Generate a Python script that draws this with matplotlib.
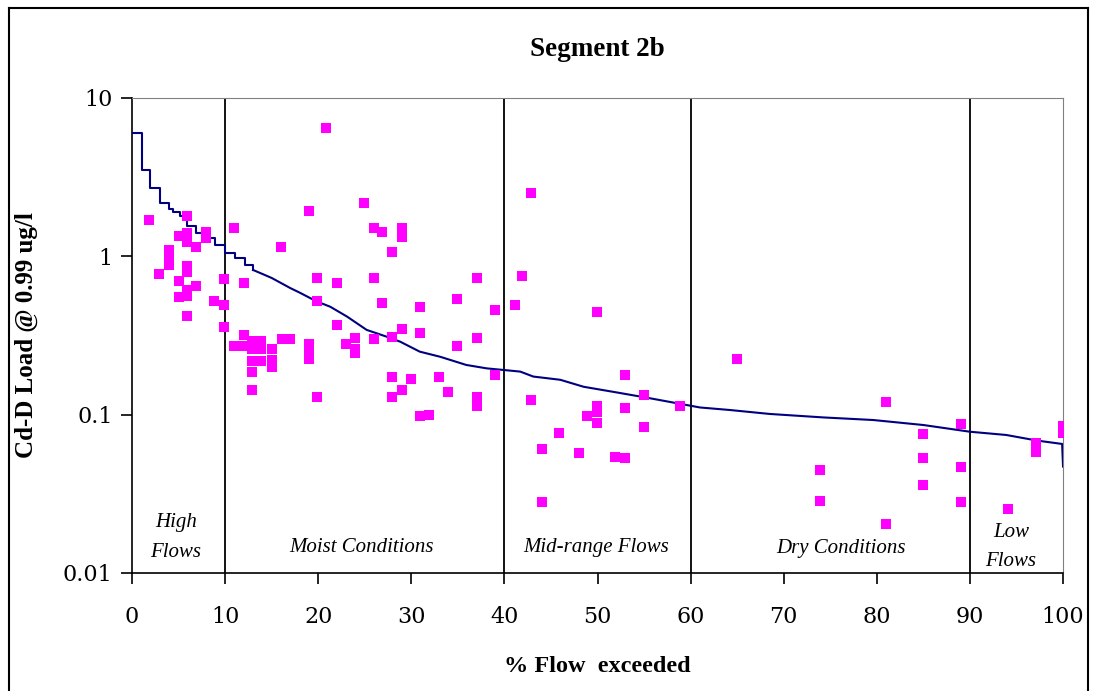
import matplotlib.pyplot as plt
from matplotlib.lines import Line2D

# flow duration curve (% flow exceeded, load)
curve_x = [0, 1.1, 1.9, 3.0, 4.0, 4.4, 5.2, 5.9, 6.9, 7.5, 8.9, 10.0, 11.1, 12.1, 13.0,
           15.0, 17.0, 18.0, 19.8, 21.3, 23.1, 25.2, 27.4, 28.8, 30.9, 33.1, 35.9, 38.1,
           40.1, 41.7, 43.1, 46.0, 48.5, 52.1, 55.6, 61.0, 64.2, 68.5, 74.3, 79.6, 85.0,
           90.0, 93.9, 97.2, 99.9, 100.0]
curve_y = [6.0, 3.5, 2.71, 2.16, 1.99, 1.90, 1.80, 1.56, 1.41, 1.30, 1.18, 1.05, 0.97, 0.88,
           0.82, 0.73, 0.63, 0.59, 0.52, 0.48, 0.416, 0.343, 0.31, 0.289, 0.25, 0.232, 0.206,
           0.196, 0.191, 0.187, 0.174, 0.166, 0.150, 0.138, 0.127, 0.111, 0.107, 0.101, 0.096,
           0.0925, 0.086, 0.078, 0.0744, 0.0686, 0.0653, 0.047]
n_steps = 15  # the high-flow end of the curve is visibly stepped

# observed loads
obs_x = [1.8, 2.9, 4.0, 4.0, 4.0, 5.0, 5.9, 5.9, 5.9, 6.9, 7.95, 7.95, 10.95, 5.0,
         5.9, 5.9, 6.9, 5.9, 5.9, 5.0, 8.8, 9.9, 9.9, 12.0, 19.0, 16.0, 20.8, 19.9, 19.9,
         5.9, 9.9, 10.95, 12.0, 12.0, 12.9, 12.9, 13.9, 13.9, 15.0, 16.1, 17.0, 12.9, 13.9,
         15.0, 15.0, 12.9, 12.9, 19.0, 19.0, 19.0, 19.9,
         24.95, 26.0, 26.9, 29.0, 29.0, 27.9, 22.0, 26.0, 37.0, 26.9, 30.9, 34.9, 38.96,
         41.1, 22.0, 23.9, 23.0, 23.9, 23.9, 26.0, 27.9, 29.0, 30.9, 34.9, 37.0,
         27.9, 30.0, 33.0, 29.0, 33.9, 37.0, 37.0, 27.9, 30.9, 31.9, 38.96,
         42.9, 41.9, 49.9, 52.9, 55.0, 58.9, 42.9, 49.9, 49.9, 48.9, 49.9, 52.9, 55.0,
         45.9, 44.0, 48.0, 51.9, 52.9, 44.0,
         65.0, 81.0, 89.0, 85.0, 85.0, 89.0, 85.0, 89.0, 73.9, 73.9, 81.0, 94.1,
         97.1, 97.1, 100.0, 100.0]
obs_y = [1.69, 0.77, 1.10, 0.98, 0.88, 1.35, 1.81, 1.41, 1.24, 1.15, 1.43, 1.30, 1.50, 0.70,
         0.87, 0.80, 0.65, 0.61, 0.56, 0.55, 0.52, 0.72, 0.49, 0.68, 1.93, 1.15, 6.5, 0.73, 0.52,
         0.42, 0.36, 0.27, 0.32, 0.27, 0.29, 0.26, 0.29, 0.26, 0.26, 0.30, 0.30, 0.218, 0.218,
         0.22, 0.20, 0.187, 0.143, 0.28, 0.255, 0.224, 0.13,
         2.16, 1.52, 1.42, 1.52, 1.32, 1.06, 0.68, 0.73, 0.73, 0.51, 0.48, 0.54, 0.46,
         0.49, 0.37, 0.306, 0.28, 0.26, 0.245, 0.30, 0.31, 0.35, 0.33, 0.27, 0.306,
         0.173, 0.169, 0.173, 0.143, 0.14, 0.13, 0.113, 0.13, 0.098, 0.100, 0.177,
         2.5, 0.75, 0.447, 0.177, 0.133, 0.113, 0.124, 0.114, 0.104, 0.098, 0.089, 0.110, 0.083,
         0.077, 0.061, 0.057, 0.054, 0.053, 0.028,
         0.225, 0.121, 0.087, 0.0755, 0.053, 0.047, 0.036, 0.028, 0.0448, 0.0286, 0.0205, 0.0253,
         0.066, 0.058, 0.085, 0.077]

zone_edges = [10, 40, 60, 90]
zone_labels = ['High\nFlows', 'Moist Conditions', 'Mid-range Flows', 'Dry Conditions', 'Low\nFlows']
zone_label_x = [4.7, 24.6, 49.9, 76.2, 94.4]
zone_label_y = [0.0168, 0.0145, 0.0145, 0.0143, 0.0146]

plt.rcParams['font.family'] = ['Liberation Serif', 'DejaVu Serif']

fig = plt.figure(figsize=(10.93, 6.91), dpi=100)
ax = fig.add_axes([0.1208, 0.1708, 0.8518, 0.6874])

ax.plot(curve_x[:n_steps], curve_y[:n_steps], color='#000080', lw=1.5,
        drawstyle='steps-post', zorder=3)
ax.plot(curve_x[n_steps - 1:], curve_y[n_steps - 1:], color='#000080', lw=1.5, zorder=3)
ax.scatter(obs_x, obs_y, marker='s', s=60, color='#FF00FF', linewidths=0, zorder=4)

for xe in zone_edges:
    ax.axvline(xe, color='black', lw=1.3, zorder=2)

for lab, lx, ly in zip(zone_labels, zone_label_x, zone_label_y):
    ax.text(lx, ly, lab, ha='center', va='center', fontsize=15, style='italic',
            linespacing=1.75, zorder=5)

ax.set_yscale('log')
ax.set_xlim(0, 100)
ax.set_ylim(0.01, 10)
ax.set_xticks(range(0, 101, 10))
ax.set_yticks([0.01, 0.1, 1, 10])
ax.set_yticklabels(['0.01', '0.1', '1', '10'])
ax.minorticks_off()
ax.tick_params(axis='both', direction='out', length=8, width=1.2, labelsize=16, pad=6)
ax.tick_params(axis='x', pad=16)
for lbl in ax.get_xticklabels() + ax.get_yticklabels():
    lbl.set_fontfamily('DejaVu Serif')

ax.spines['top'].set_color('#808080')
ax.spines['right'].set_color('#808080')
ax.spines['left'].set_linewidth(1.2)
ax.spines['bottom'].set_linewidth(1.2)

ax.set_title('Segment 2b', fontsize=19.5, fontweight='bold', pad=30)
ax.set_xlabel('% Flow  exceeded', fontsize=17.5, fontweight='bold', labelpad=20)
ax.set_ylabel('Cd-D Load @ 0.99 ug/l', fontsize=18, fontweight='bold', labelpad=18)

# chart border
for xs, ys in [([0.0082, 0.0082], [0, 0.988]), ([0.0082, 0.9955], [0.988, 0.988]),
               ([0.9955, 0.9955], [0, 0.988])]:
    fig.add_artist(Line2D(xs, ys, color='black', lw=1.5, transform=fig.transFigure))

fig.savefig('out.png', dpi=100)
